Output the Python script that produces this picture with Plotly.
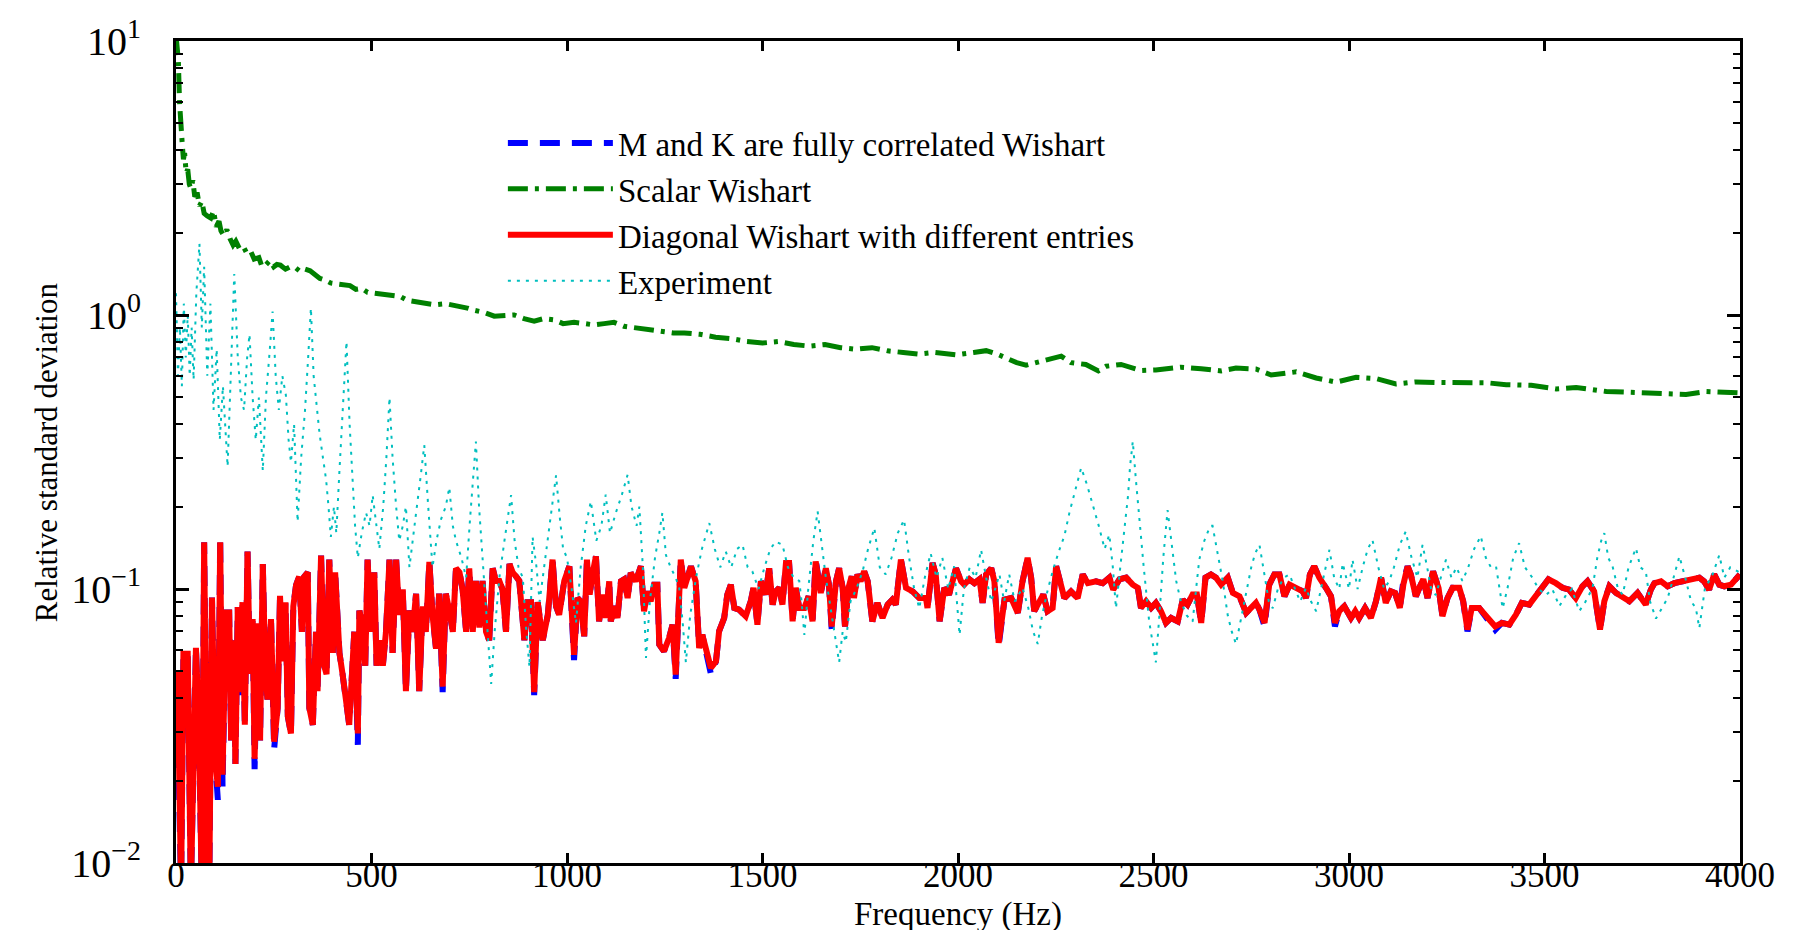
import plotly.graph_objects as go

# ---------------- data ----------------
# Diagonal Wishart with different entries (red)
red_pts = [
    (0, 0.045), (4, 0.05), (13, 0.008), (19, 0.058), (30, 0.058), (38, 0.008), (51, 0.061), (58, 0.034),
    (66, 0.008), (72, 0.148), (81, 0.008), (85, 0.008), (92, 0.093), (100, 0.024), (107, 0.019), (113, 0.148),
    (119, 0.021), (128, 0.082), (136, 0.082), (141, 0.028), (147, 0.065), (152, 0.023), (158, 0.086), (164, 0.042),
    (170, 0.0895), (176, 0.032), (183, 0.137), (189, 0.049), (196, 0.0777), (201, 0.024), (209, 0.075), (215, 0.028),
    (222, 0.1234), (228, 0.0525), (234, 0.0395), (243, 0.0777), (251, 0.0277), (260, 0.0368), (266, 0.0944), (273, 0.0544),
    (280, 0.0895), (286, 0.0343), (294, 0.0297), (300, 0.0864), (307, 0.1033), (315, 0.111), (322, 0.0698), (328, 0.111),
    (337, 0.115), (341, 0.0368), (350, 0.0319), (358, 0.0698), (362, 0.0424), (371, 0.1325), (379, 0.0525), (385, 0.0489),
    (392, 0.128), (401, 0.0584), (407, 0.115), (418, 0.0584), (426, 0.0489), (435, 0.0368), (443, 0.0319), (456, 0.0698),
    (465, 0.0297), (469, 0.0835), (477, 0.0724), (484, 0.0525), (490, 0.128), (499, 0.0698), (507, 0.115), (513, 0.0525),
    (522, 0.065), (529, 0.0525), (537, 0.0698), (546, 0.128), (554, 0.0584), (563, 0.128), (571, 0.0805), (580, 0.0997),
    (588, 0.0424), (597, 0.0835), (605, 0.0698), (614, 0.0961), (622, 0.0424), (631, 0.0864), (639, 0.0698), (648, 0.1255),
    (656, 0.0805), (665, 0.0605), (673, 0.0961), (682, 0.044), (690, 0.0961), (699, 0.0835), (708, 0.0698), (716, 0.119),
    (725, 0.115), (733, 0.0997), (742, 0.0698), (750, 0.119), (759, 0.0698), (767, 0.107), (776, 0.0724), (784, 0.107),
    (793, 0.0698), (801, 0.065), (810, 0.119), (818, 0.107), (827, 0.107), (835, 0.0997), (844, 0.0698), (853, 0.1234),
    (861, 0.115), (870, 0.111), (878, 0.107), (891, 0.065), (899, 0.0895), (908, 0.0895), (916, 0.042), (925, 0.0895),
    (938, 0.065), (951, 0.0805), (963, 0.128), (972, 0.0864), (980, 0.0805), (993, 0.107),
    (1006, 0.121), (1018, 0.0575), (1027, 0.0927), (1035, 0.0902), (1044, 0.0672), (1051, 0.128), (1058, 0.0954), (1065, 0.113),
    (1074, 0.1316), (1082, 0.0762), (1091, 0.0954), (1099, 0.0784), (1108, 0.1067), (1112, 0.0762), (1121, 0.0865), (1129, 0.0784),
    (1138, 0.1067), (1146, 0.1085), (1155, 0.0927), (1163, 0.1146), (1176, 0.1067), (1189, 0.121), (1197, 0.083), (1206, 0.098),
    (1214, 0.0902), (1223, 0.1037), (1231, 0.1037), (1236, 0.0627), (1248, 0.0593), (1261, 0.0662), (1270, 0.0741), (1278, 0.0487),
    (1291, 0.128), (1300, 0.101), (1317, 0.121), (1329, 0.1067), (1338, 0.0609), (1346, 0.0681), (1359, 0.0575), (1368, 0.0515),
    (1381, 0.0544), (1389, 0.0701), (1402, 0.0784), (1410, 0.0954), (1419, 0.1037), (1428, 0.0853), (1440, 0.0841), (1457, 0.0796),
    (1470, 0.0902), (1477, 0.101), (1487, 0.0741), (1496, 0.1067), (1508, 0.0954), (1517, 0.119), (1526, 0.0877), (1534, 0.098),
    (1543, 0.101), (1551, 0.0877), (1560, 0.1245), (1568, 0.1245), (1577, 0.0762), (1585, 0.101), (1594, 0.0853), (1607, 0.0853),
    (1618, 0.094), (1628, 0.0762), (1636, 0.126), (1649, 0.0967), (1662, 0.119), (1670, 0.1037), (1677, 0.073), (1688, 0.1067),
    (1696, 0.119), (1705, 0.101), (1711, 0.073), (1720, 0.101), (1728, 0.1113), (1734, 0.0927), (1743, 0.113), (1751, 0.1067),
    (1760, 0.116), (1769, 0.1067), (1781, 0.0762), (1794, 0.089), (1807, 0.0784), (1820, 0.0877), (1832, 0.0914), (1841, 0.0877),
    (1854, 0.128), (1867, 0.101), (1884, 0.098), (1901, 0.0927), (1918, 0.0927), (1922, 0.0853), (1935, 0.1245), (1943, 0.113),
    (1953, 0.0762), (1965, 0.101), (1977, 0.0954), (1990, 0.113),
    (1995, 0.119), (2008, 0.1067), (2016, 0.1037), (2029, 0.1085), (2042, 0.105), (2055, 0.1085), (2063, 0.089), (2072, 0.113),
    (2085, 0.119), (2093, 0.1067), (2104, 0.0636), (2119, 0.0914), (2136, 0.0927), (2153, 0.0818), (2165, 0.1067), (2178, 0.130),
    (2187, 0.110), (2195, 0.083), (2208, 0.0902), (2218, 0.0954), (2229, 0.083), (2242, 0.0853), (2251, 0.121), (2259, 0.110),
    (2272, 0.0927), (2289, 0.098), (2306, 0.0927), (2319, 0.113), (2332, 0.105), (2353, 0.1067), (2370, 0.105), (2387, 0.110),
    (2397, 0.0995), (2413, 0.1085), (2430, 0.110), (2447, 0.1037), (2460, 0.101), (2468, 0.0853), (2481, 0.0902), (2494, 0.0853),
    (2506, 0.089), (2519, 0.083), (2532, 0.0752), (2545, 0.0784), (2562, 0.0762), (2575, 0.0914), (2587, 0.0877), (2600, 0.0954),
    (2611, 0.0954), (2622, 0.0752), (2633, 0.110), (2647, 0.113), (2660, 0.110), (2673, 0.1037), (2690, 0.110), (2703, 0.0967),
    (2720, 0.094), (2737, 0.0818), (2749, 0.0853), (2762, 0.089), (2771, 0.0841), (2784, 0.0752), (2796, 0.1037), (2809, 0.113),
    (2822, 0.113), (2835, 0.094), (2848, 0.1037), (2865, 0.101), (2882, 0.098), (2890, 0.0927), (2900, 0.113), (2911, 0.121),
    (2924, 0.110), (2941, 0.101), (2954, 0.094), (2964, 0.0752), (2975, 0.083), (2988, 0.0865),
    (3005, 0.0784), (3016, 0.083), (3026, 0.0784), (3041, 0.0853), (3056, 0.0784), (3069, 0.0902), (3082, 0.110), (3094, 0.089),
    (3107, 0.098), (3118, 0.0967), (3130, 0.0853), (3139, 0.1037), (3150, 0.121), (3158, 0.113), (3171, 0.094), (3180, 0.101),
    (3190, 0.1085), (3201, 0.0927), (3215, 0.116), (3229, 0.101), (3239, 0.0796), (3252, 0.0927), (3265, 0.101), (3282, 0.101),
    (3292, 0.0902), (3303, 0.0711), (3314, 0.0853), (3333, 0.0853), (3354, 0.0784), (3374, 0.073), (3391, 0.0752), (3410, 0.0741),
    (3427, 0.0807), (3442, 0.089), (3461, 0.0877), (3482, 0.0954), (3499, 0.1037), (3510, 0.1085), (3529, 0.105), (3546, 0.101),
    (3563, 0.0995), (3580, 0.0927), (3597, 0.1023), (3610, 0.1067), (3627, 0.098), (3642, 0.0711), (3653, 0.0902), (3666, 0.1023),
    (3683, 0.0967), (3700, 0.0927), (3717, 0.0902), (3738, 0.0967), (3759, 0.0877), (3772, 0.0995), (3781, 0.105), (3798, 0.1067),
    (3815, 0.1023), (3832, 0.105), (3853, 0.1067), (3870, 0.1085), (3896, 0.110), (3908, 0.1067), (3921, 0.0995), (3934, 0.113),
    (3947, 0.1037), (3960, 0.1023), (3977, 0.1037), (4000, 0.113),
]

# M and K fully correlated Wishart (blue): same as red except where it shows through
blue_diff = {
    4: 0.034, 58: 0.032, 107: 0.017, 113: 0.155, 119: 0.019, 164: 0.040, 201: 0.022, 251: 0.026,
    465: 0.027, 682: 0.042, 916: 0.041, 1018: 0.055, 1278: 0.047, 1368: 0.049, 1636: 0.128,
    1677: 0.071, 2104: 0.062, 2784: 0.073, 2964: 0.073, 3139: 0.107, 3303: 0.070, 3374: 0.071,
}

# Scalar Wishart (green)
green_pts = [
    (0, 10.5), (3, 9.0), (6, 8.5), (9, 6.0), (11, 5.2), (13, 4.6), (16, 4.2), (19, 3.7), (22, 3.9), (26, 3.3),
    (30, 3.4), (34, 3.0), (38, 2.9), (43, 3.1), (48, 2.7), (54, 2.8), (60, 2.5), (66, 2.6), (72, 2.35), (80, 2.3),
    (89, 2.26), (96, 2.4), (103, 2.1), (110, 2.2), (115, 2.03), (122, 1.95), (130, 2.05), (138, 1.9), (146, 1.8),
    (153, 1.86), (162, 1.75), (172, 1.78), (181, 1.68), (191, 1.71), (200, 1.6), (212, 1.62), (220, 1.5), (229, 1.52),
    (240, 1.58), (250, 1.5), (258, 1.53), (267, 1.52), (280, 1.47), (292, 1.5), (305, 1.49), (318, 1.44), (330, 1.47),
    (343, 1.45), (355, 1.4), (368, 1.36), (382, 1.34), (395, 1.31), (410, 1.3), (425, 1.29), (445, 1.28), (460, 1.24),
    (475, 1.25), (490, 1.21), (509, 1.2), (530, 1.19), (550, 1.17), (573, 1.17), (592, 1.13), (611, 1.12), (635, 1.11),
    (662, 1.09), (690, 1.1), (725, 1.08), (745, 1.06), (763, 1.04), (790, 1.02), (814, 0.99), (840, 1.0), (865, 1.0),
    (890, 0.97), (916, 0.95), (940, 0.97), (967, 0.96), (990, 0.93), (1018, 0.94), (1045, 0.93), (1069, 0.92),
    (1095, 0.93), (1120, 0.94), (1145, 0.91), (1170, 0.90), (1190, 0.89), (1209, 0.88), (1240, 0.87), (1272, 0.86),
    (1300, 0.86), (1340, 0.85), (1380, 0.83), (1420, 0.82), (1460, 0.80), (1500, 0.79), (1540, 0.80), (1580, 0.78),
    (1620, 0.77), (1660, 0.78), (1700, 0.76), (1740, 0.75), (1780, 0.76), (1820, 0.74), (1860, 0.73), (1900, 0.72),
    (1940, 0.73), (1995, 0.716), (2040, 0.73), (2072, 0.741), (2100, 0.72), (2123, 0.697), (2150, 0.67), (2174, 0.656),
    (2200, 0.67), (2225, 0.69), (2264, 0.708), (2289, 0.67), (2327, 0.66), (2359, 0.625), (2379, 0.65), (2417, 0.66),
    (2468, 0.627), (2506, 0.63), (2570, 0.645), (2622, 0.637), (2673, 0.625), (2711, 0.64), (2762, 0.635), (2801, 0.604),
    (2865, 0.62), (2916, 0.589), (2967, 0.569), (3018, 0.592), (3069, 0.586), (3120, 0.56), (3171, 0.57), (3223, 0.567),
    (3274, 0.567), (3351, 0.566), (3402, 0.557), (3466, 0.554), (3530, 0.537), (3581, 0.544), (3658, 0.526), (3709, 0.523),
    (3760, 0.523), (3811, 0.515), (3862, 0.513), (3913, 0.526), (3964, 0.52), (4000, 0.52),
]

# Experiment (cyan)
cyan_pts = [
    (0, 1.2), (5, 0.6), (10, 0.9), (15, 0.55), (20, 1.1), (25, 0.7), (30, 1.0), (35, 0.6), (40, 0.9), (45, 0.58),
    (52, 1.2), (60, 1.82), (66, 0.9), (72, 1.5), (80, 0.6), (88, 1.1), (96, 0.45), (104, 0.75), (112, 0.35), (120, 0.55),
    (132, 0.28), (140, 0.6), (149, 1.41), (158, 0.7), (166, 0.5), (174, 0.45), (182, 0.7), (188, 0.85), (196, 0.5),
    (204, 0.35), (212, 0.5), (222, 0.27), (230, 0.5), (240, 0.75), (247, 1.03), (255, 0.6), (263, 0.45), (272, 0.6),
    (281, 0.51), (288, 0.35), (294, 0.29), (302, 0.4), (311, 0.176), (320, 0.3), (330, 0.45), (338, 0.7), (345, 1.06),
    (352, 0.6), (360, 0.45), (367, 0.37), (376, 0.3), (384, 0.25), (390, 0.2), (396, 0.155), (404, 0.2), (410, 0.16),
    (418, 0.27), (426, 0.45), (436, 0.80), (444, 0.4), (452, 0.24), (458, 0.17), (465, 0.13), (475, 0.16), (486, 0.19),
    (495, 0.17), (503, 0.22), (512, 0.17), (520, 0.14), (530, 0.2), (538, 0.3), (546, 0.50), (554, 0.3), (563, 0.2),
    (571, 0.15), (580, 0.17), (588, 0.2), (597, 0.12), (606, 0.15), (616, 0.2), (626, 0.26), (635, 0.335), (645, 0.2),
    (656, 0.12), (666, 0.15), (678, 0.18), (690, 0.2), (699, 0.235), (708, 0.17), (716, 0.15), (730, 0.13), (742, 0.11),
    (752, 0.18), (760, 0.26), (767, 0.345), (775, 0.2), (784, 0.13), (792, 0.09), (800, 0.06), (806, 0.045), (815, 0.07),
    (827, 0.11), (840, 0.15), (850, 0.19), (857, 0.22), (866, 0.15), (876, 0.12), (887, 0.11), (896, 0.07), (904, 0.052),
    (912, 0.155), (922, 0.12), (930, 0.09), (938, 0.11), (950, 0.15), (962, 0.2), (972, 0.26), (982, 0.18), (990, 0.14),
    (1000, 0.13), (1012, 0.1), (1023, 0.075), (1035, 0.12), (1048, 0.17), (1061, 0.209), (1075, 0.15), (1088, 0.17),
    (1099, 0.221), (1110, 0.16), (1125, 0.19), (1140, 0.22), (1155, 0.261), (1165, 0.2), (1178, 0.17), (1185, 0.2),
    (1194, 0.12), (1202, 0.056), (1212, 0.09), (1225, 0.13), (1236, 0.16), (1244, 0.19), (1253, 0.133), (1265, 0.12),
    (1278, 0.11), (1287, 0.101), (1296, 0.075), (1304, 0.054), (1315, 0.08), (1330, 0.11), (1345, 0.14), (1364, 0.174),
    (1378, 0.14), (1392, 0.12), (1406, 0.137), (1420, 0.12), (1435, 0.14), (1449, 0.145), (1462, 0.12), (1474, 0.116),
    (1490, 0.1), (1505, 0.12), (1520, 0.14), (1534, 0.149), (1551, 0.145), (1565, 0.12), (1580, 0.11), (1594, 0.107),
    (1600, 0.09), (1607, 0.068), (1617, 0.1), (1630, 0.15), (1641, 0.192), (1652, 0.14), (1662, 0.11), (1670, 0.093),
    (1680, 0.075), (1690, 0.06), (1696, 0.054), (1705, 0.07), (1713, 0.064), (1725, 0.09), (1740, 0.1), (1756, 0.116),
    (1770, 0.14), (1786, 0.167), (1800, 0.12), (1815, 0.113), (1830, 0.13), (1846, 0.16), (1862, 0.179), (1875, 0.13),
    (1888, 0.1), (1901, 0.085), (1915, 0.11), (1930, 0.135), (1945, 0.11), (1960, 0.13), (1975, 0.1), (1990, 0.121),
    (2004, 0.068), (2015, 0.1), (2030, 0.12), (2045, 0.11), (2059, 0.139), (2072, 0.11), (2085, 0.09), (2095, 0.1),
    (2106, 0.113), (2118, 0.09), (2131, 0.113), (2145, 0.09), (2165, 0.101), (2180, 0.085), (2192, 0.07), (2204, 0.063),
    (2215, 0.08), (2230, 0.1), (2245, 0.12), (2260, 0.14), (2272, 0.156), (2285, 0.19), (2300, 0.23), (2315, 0.277),
    (2330, 0.24), (2345, 0.203), (2360, 0.17), (2375, 0.14), (2387, 0.158), (2396, 0.12), (2404, 0.085), (2415, 0.12),
    (2425, 0.16), (2435, 0.22), (2440, 0.28), (2447, 0.346), (2455, 0.25), (2464, 0.177), (2475, 0.12), (2489, 0.076),
    (2500, 0.06), (2506, 0.054), (2515, 0.08), (2525, 0.13), (2536, 0.194), (2548, 0.14), (2558, 0.107), (2570, 0.09),
    (2585, 0.08), (2600, 0.076), (2608, 0.1), (2617, 0.128), (2630, 0.15), (2645, 0.17), (2651, 0.17), (2665, 0.13),
    (2677, 0.107), (2690, 0.08), (2700, 0.07), (2711, 0.063), (2725, 0.08), (2737, 0.095), (2750, 0.12), (2760, 0.135),
    (2771, 0.145), (2785, 0.11), (2795, 0.09), (2805, 0.085), (2818, 0.1), (2833, 0.11), (2848, 0.113), (2862, 0.1),
    (2875, 0.09), (2890, 0.101), (2903, 0.09), (2916, 0.083), (2928, 0.1), (2940, 0.12), (2950, 0.139), (2962, 0.11),
    (2975, 0.1), (2984, 0.124), (3000, 0.1), (3009, 0.128), (3022, 0.1), (3035, 0.12), (3048, 0.14), (3060, 0.151),
    (3075, 0.12), (3090, 0.1), (3103, 0.107), (3115, 0.12), (3130, 0.145), (3145, 0.162), (3160, 0.13), (3175, 0.11),
    (3188, 0.145), (3200, 0.12), (3210, 0.1), (3222, 0.095), (3235, 0.11), (3248, 0.128), (3262, 0.11), (3275, 0.12),
    (3290, 0.107), (3305, 0.12), (3320, 0.14), (3337, 0.156), (3350, 0.13), (3363, 0.12), (3376, 0.121), (3385, 0.1),
    (3393, 0.085), (3405, 0.1), (3420, 0.13), (3435, 0.147), (3450, 0.12), (3469, 0.11), (3485, 0.1), (3504, 0.095),
    (3520, 0.1), (3538, 0.0865), (3555, 0.095), (3570, 0.1), (3589, 0.083), (3605, 0.09), (3623, 0.101), (3635, 0.13),
    (3645, 0.15), (3653, 0.16), (3663, 0.13), (3674, 0.121), (3688, 0.1), (3700, 0.0954), (3715, 0.12), (3734, 0.141),
    (3745, 0.12), (3759, 0.116), (3770, 0.09), (3785, 0.078), (3800, 0.085), (3815, 0.0927), (3830, 0.11), (3845, 0.1316),
    (3860, 0.11), (3875, 0.09), (3887, 0.0853), (3896, 0.072), (3910, 0.1), (3930, 0.113), (3947, 0.133), (3960, 0.11),
    (3975, 0.12), (3994, 0.116), (4000, 0.12),
]

series_names = [
    "M and K are fully correlated Wishart",
    "Scalar Wishart",
    "Diagonal Wishart with different entries",
    "Experiment",
]
x_title = "Frequency (Hz)"
y_title = "Relative standard deviation"
x_ticks = [0, 500, 1000, 1500, 2000, 2500, 3000, 3500, 4000]
y_ticks = [0.01, 0.1, 1, 10]
y_ticktext = ["10<sup>\u22122</sup>", "10<sup>\u22121</sup>", "10<sup>0</sup>", "10<sup>1</sup>"]

# ---------------- build ----------------
red_f = [p[0] for p in red_pts]
red_v = [p[1] for p in red_pts]
blue_v = [blue_diff.get(f, v) for f, v in red_pts]
green_f = [p[0] for p in green_pts]
green_v = [p[1] for p in green_pts]
cyan_f = [p[0] for p in cyan_pts]
cyan_v = [p[1] for p in cyan_pts]

FONT = "Liberation Serif, Times New Roman, serif"

fig = go.Figure()
fig.add_trace(go.Scatter(x=red_f, y=blue_v, mode="lines", name=series_names[0],
                         line=dict(color="#0000ff", width=6, dash="20px,12px")))
fig.add_trace(go.Scatter(x=green_f, y=green_v, mode="lines", name=series_names[1],
                         line=dict(color="#008000", width=5, dash="20px,7px,4px,7px")))
fig.add_trace(go.Scatter(x=red_f, y=red_v, mode="lines", name=series_names[2],
                         line=dict(color="#ff0000", width=6)))
fig.add_trace(go.Scatter(x=cyan_f, y=cyan_v, mode="lines", name=series_names[3],
                         line=dict(color="#00bfbf", width=2, dash="3px,6px")))

axis_common = dict(
    showline=True, linewidth=3, linecolor="black", mirror="ticks",
    ticks="inside", tickcolor="black", tickwidth=3,
    showgrid=False, zeroline=False,
)

fig.update_layout(
    width=1802, height=930,
    margin=dict(l=168, r=70, t=33, b=75),
    paper_bgcolor="white", plot_bgcolor="white",
    font=dict(family=FONT, color="black"),
    showlegend=True,
    legend=dict(x=0.209, y=0.91, xanchor="left", yanchor="top",
                bgcolor="rgba(0,0,0,0)", borderwidth=0,
                font=dict(family=FONT, size=33, color="black"),
                itemwidth=105, tracegroupgap=0),
    xaxis=dict(range=[0, 4000], tickmode="array", tickvals=x_ticks, ticklen=10,
               tickfont=dict(family=FONT, size=35, color="black"),
               automargin=False, ticklabelstandoff=-21, **axis_common),
    yaxis=dict(type="log", range=[-2, 1], tickmode="array", tickvals=y_ticks, ticktext=y_ticktext, ticklen=13,
               tickfont=dict(family=FONT, size=40, color="black"),
               minor=dict(ticks="inside", ticklen=7, tickwidth=2, tickcolor="black", dtick="D1", showgrid=False),
               automargin=False, ticklabelstandoff=24, **axis_common),
    annotations=[
        dict(text=x_title, xref="paper", yref="paper", x=0.5, y=-0.0875,
             xanchor="center", yanchor="bottom", showarrow=False,
             font=dict(family=FONT, size=33, color="black")),
        dict(text=y_title, xref="paper", yref="paper", x=-0.083, y=0.5, textangle=-90,
             xanchor="center", yanchor="middle", showarrow=False,
             font=dict(family=FONT, size=31, color="black")),
    ],
)

fig.write_html("out.html")
